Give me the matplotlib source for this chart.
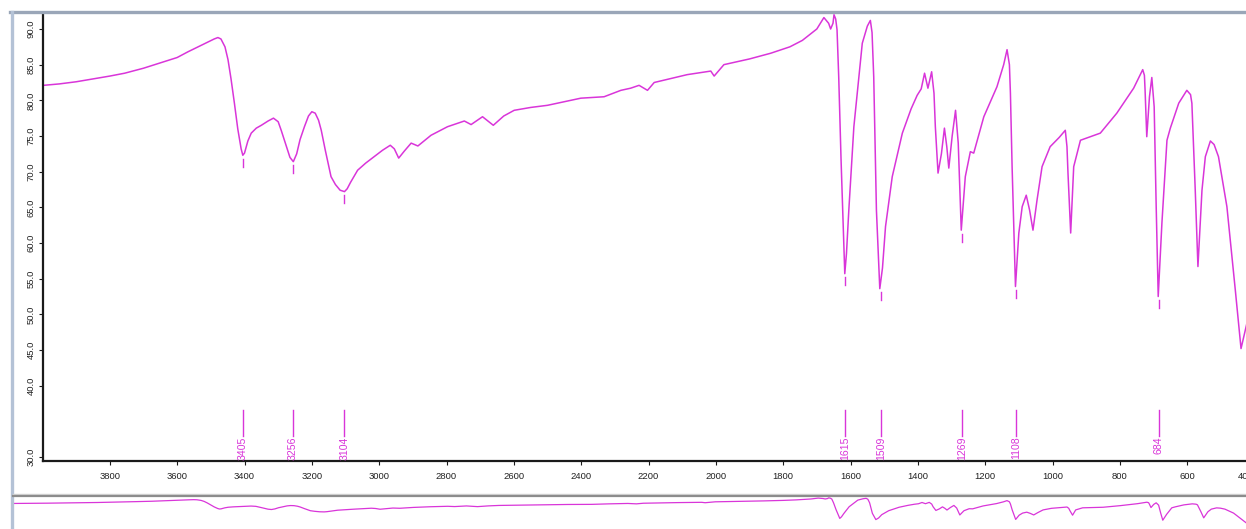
import numpy as np
import matplotlib
matplotlib.use("Agg")
import matplotlib.pyplot as plt
import matplotlib.transforms as mtransforms
from matplotlib.lines import Line2D

# ---------------- data ----------------
wavenumber = [3997, 3950, 3900, 3850, 3800, 3756, 3700, 3647, 3600, 3568, 3520, 3490,
              3479, 3470, 3458, 3449, 3440, 3430, 3420, 3410, 3405, 3400, 3390, 3380,
              3365, 3350, 3330, 3314, 3300, 3291, 3280, 3265, 3255, 3245, 3235, 3222,
              3210, 3200, 3190, 3180, 3172, 3160, 3143, 3130, 3116, 3103, 3095, 3085,
              3064, 3040, 3015, 2990, 2967, 2955, 2942, 2925, 2905, 2885, 2846, 2797,
              2747, 2727, 2693, 2661, 2630, 2599, 2550, 2500, 2450, 2401, 2332, 2282,
              2253, 2228, 2203, 2183, 2085, 2015, 2005, 1976, 1900, 1837, 1780, 1743,
              1700, 1679, 1665, 1659, 1652, 1649, 1644, 1640, 1635, 1628, 1620, 1617,
              1612, 1605, 1590, 1565, 1550, 1541, 1536, 1531, 1523, 1513, 1505, 1496,
              1476, 1446, 1420, 1402, 1390, 1380, 1370, 1359, 1352, 1348, 1340, 1330,
              1321, 1314, 1308, 1298, 1288, 1280, 1271, 1265, 1259, 1244, 1234, 1204,
              1165, 1145, 1135, 1128, 1125, 1120, 1110, 1100, 1090, 1078, 1068, 1058,
              1046, 1031, 1007, 980, 962, 957, 954, 946, 937, 917, 858, 809, 759, 732,
              727, 725, 720, 712, 705, 698, 692, 686, 675, 660, 650, 625, 601, 590,
              586, 576, 568, 556, 546, 531, 520, 507, 482, 457, 440, 425, 400]
transmittance = [82.1, 82.3, 82.6, 83.0, 83.4, 83.8, 84.5, 85.3, 86.0, 86.8, 87.9, 88.6,
                 88.8, 88.6, 87.5, 85.7, 83.0, 79.6, 76.0, 73.2, 72.3, 72.6, 74.3, 75.4,
                 76.1, 76.5, 77.1, 77.5, 77.0, 75.8, 74.2, 72.0, 71.4, 72.5, 74.5, 76.3,
                 77.8, 78.4, 78.2, 77.2, 75.8, 73.0, 69.3, 68.2, 67.4, 67.2, 67.6, 68.5,
                 70.2, 71.2, 72.1, 73.0, 73.7, 73.2, 71.9, 72.9, 74.0, 73.6, 75.1, 76.3,
                 77.1, 76.6, 77.7, 76.5, 77.8, 78.6, 79.0, 79.3, 79.8, 80.3, 80.5, 81.4,
                 81.7, 82.1, 81.4, 82.5, 83.6, 84.1, 83.4, 85.0, 85.8, 86.6, 87.5, 88.4,
                 90.0, 91.6, 90.8, 90.0, 90.8, 92.0, 91.4, 89.9, 83.3, 71.6, 60.0, 55.7,
                 58.5, 64.6, 76.3, 88.0, 90.4, 91.2, 89.5, 83.3, 64.6, 53.6, 56.5, 62.3,
                 69.3, 75.4, 78.8, 80.7, 81.6, 83.8, 81.7, 84.0, 81.0, 76.3, 69.8, 72.5,
                 76.1, 73.5, 70.5, 75.0, 78.6, 74.0, 61.8, 65.5, 69.3, 72.8, 72.6, 77.7,
                 81.9, 85.0, 87.1, 85.0, 81.0, 70.7, 53.9, 61.4, 65.1, 66.7, 64.6, 61.8,
                 66.0, 70.7, 73.5, 74.8, 75.8, 73.5, 69.8, 61.4, 70.7, 74.4, 75.4, 78.2,
                 81.7, 84.3, 83.5, 81.4, 74.9, 80.5, 83.2, 79.1, 65.1, 52.5, 62.8, 74.4,
                 76.1, 79.6, 81.4, 80.8, 79.6, 67.4, 56.7, 67.4, 72.1, 74.3, 73.8, 72.1,
                 65.1, 53.4, 45.2, 48.3, 53.0]

peak_labels = [3405, 3256, 3104, 1615, 1509, 1269, 1108, 684]
x_ticks = [3800, 3600, 3400, 3200, 3000, 2800, 2600, 2400, 2200, 2000, 1800, 1600,
           1400, 1200, 1000, 800, 600, 400]
y_ticks = [30, 40, 45, 50, 55, 60, 65, 70, 75, 80, 85, 90]

# ---------------- styling ----------------
W, H = 1246, 529
LINE = "#d935d9"
plt.rcParams['font.family'] = ['Liberation Sans', 'DejaVu Sans']

fig = plt.figure(figsize=(W / 100, H / 100), dpi=100)
fig.patch.set_facecolor("white")

def fx(px):
    return px / W

def fy(py):
    return 1 - py / H

wn = np.array(wavenumber, dtype=float)
tr = np.array(transmittance, dtype=float)

# main axes
left_px, right_px, top_px, bot_px = 42.5, 1254.5, 14, 461
ax = fig.add_axes([fx(left_px), fy(bot_px), fx(right_px - left_px), (bot_px - top_px) / H])
ax.plot(wn, tr, color=LINE, lw=1.1)
ax.set_xlim(4000, 400)
ax.set_ylim(29.44, 92.1)
for s in ("top", "right"):
    ax.spines[s].set_visible(False)
for s in ("left", "bottom"):
    ax.spines[s].set_linewidth(1.6)
    ax.spines[s].set_color("#1a1a1a")
ax.set_xticks(x_ticks)
ax.set_xticklabels([str(t) for t in x_ticks])
ax.set_yticks(y_ticks)
ax.set_yticklabels([f"{t:.1f}" for t in y_ticks], rotation=90, va="center")
ax.tick_params(axis="both", direction="out", length=3, width=0.8, colors="#1a1a1a",
               labelsize=6.8, labelcolor="#222222")
ax.tick_params(axis="x", pad=5)
ax.tick_params(axis="y", pad=2)

# the last (400) label is pushed left so that it starts inside the window, as in the source
fig.canvas.draw()
last = ax.get_xticklabels()[-1]
last.set_horizontalalignment("right")
last.set_transform(last.get_transform() + mtransforms.ScaledTranslation(-1.0 / 72, 0, fig.dpi_scale_trans))

# peak markers and labels
for p in peak_labels:
    m = (wn >= p - 15) & (wn <= p + 15)
    tmin = tr[m].min()
    ax.plot([p, p], [tmin - 0.5, tmin - 1.6], color=LINE, lw=1.0)
    ax.plot([p, p], [36.6, 32.9], color=LINE, lw=1.0)
    ax.text(p, 32.9, str(p), rotation=90, ha="center", va="top", color=LINE,
            fontsize=7.6)

# overview axes at the bottom
ov_left, ov_right, ov_top, ov_bot = 13, 1262, 497, 529
ax2 = fig.add_axes([fx(ov_left), fy(ov_bot), fx(ov_right - ov_left), (ov_bot - ov_top) / H])
ax2.plot(wn, tr, color=LINE, lw=0.9)
ax2.set_xlim(4000, 400)
ax2.set_ylim(37.0, 93.5)
ax2.axis("off")

# window frame decorations
fig.add_artist(Line2D([fx(10), 1.0], [fy(11.5), fy(11.5)], color="#9aa6b8", lw=2.4,
                      transform=fig.transFigure))
fig.add_artist(Line2D([fx(11.5), fx(11.5)], [fy(11.5), 0.0], color="#b4c2d6", lw=2.4,
                      transform=fig.transFigure))
fig.add_artist(Line2D([fx(13), 1.0], [fy(494), fy(494)], color="#d6d6d6", lw=1.0,
                      transform=fig.transFigure))
fig.add_artist(Line2D([fx(13), 1.0], [fy(496), fy(496)], color="#8c8c8c", lw=1.6,
                      transform=fig.transFigure))

fig.savefig("out.png", dpi=100, facecolor="white")
